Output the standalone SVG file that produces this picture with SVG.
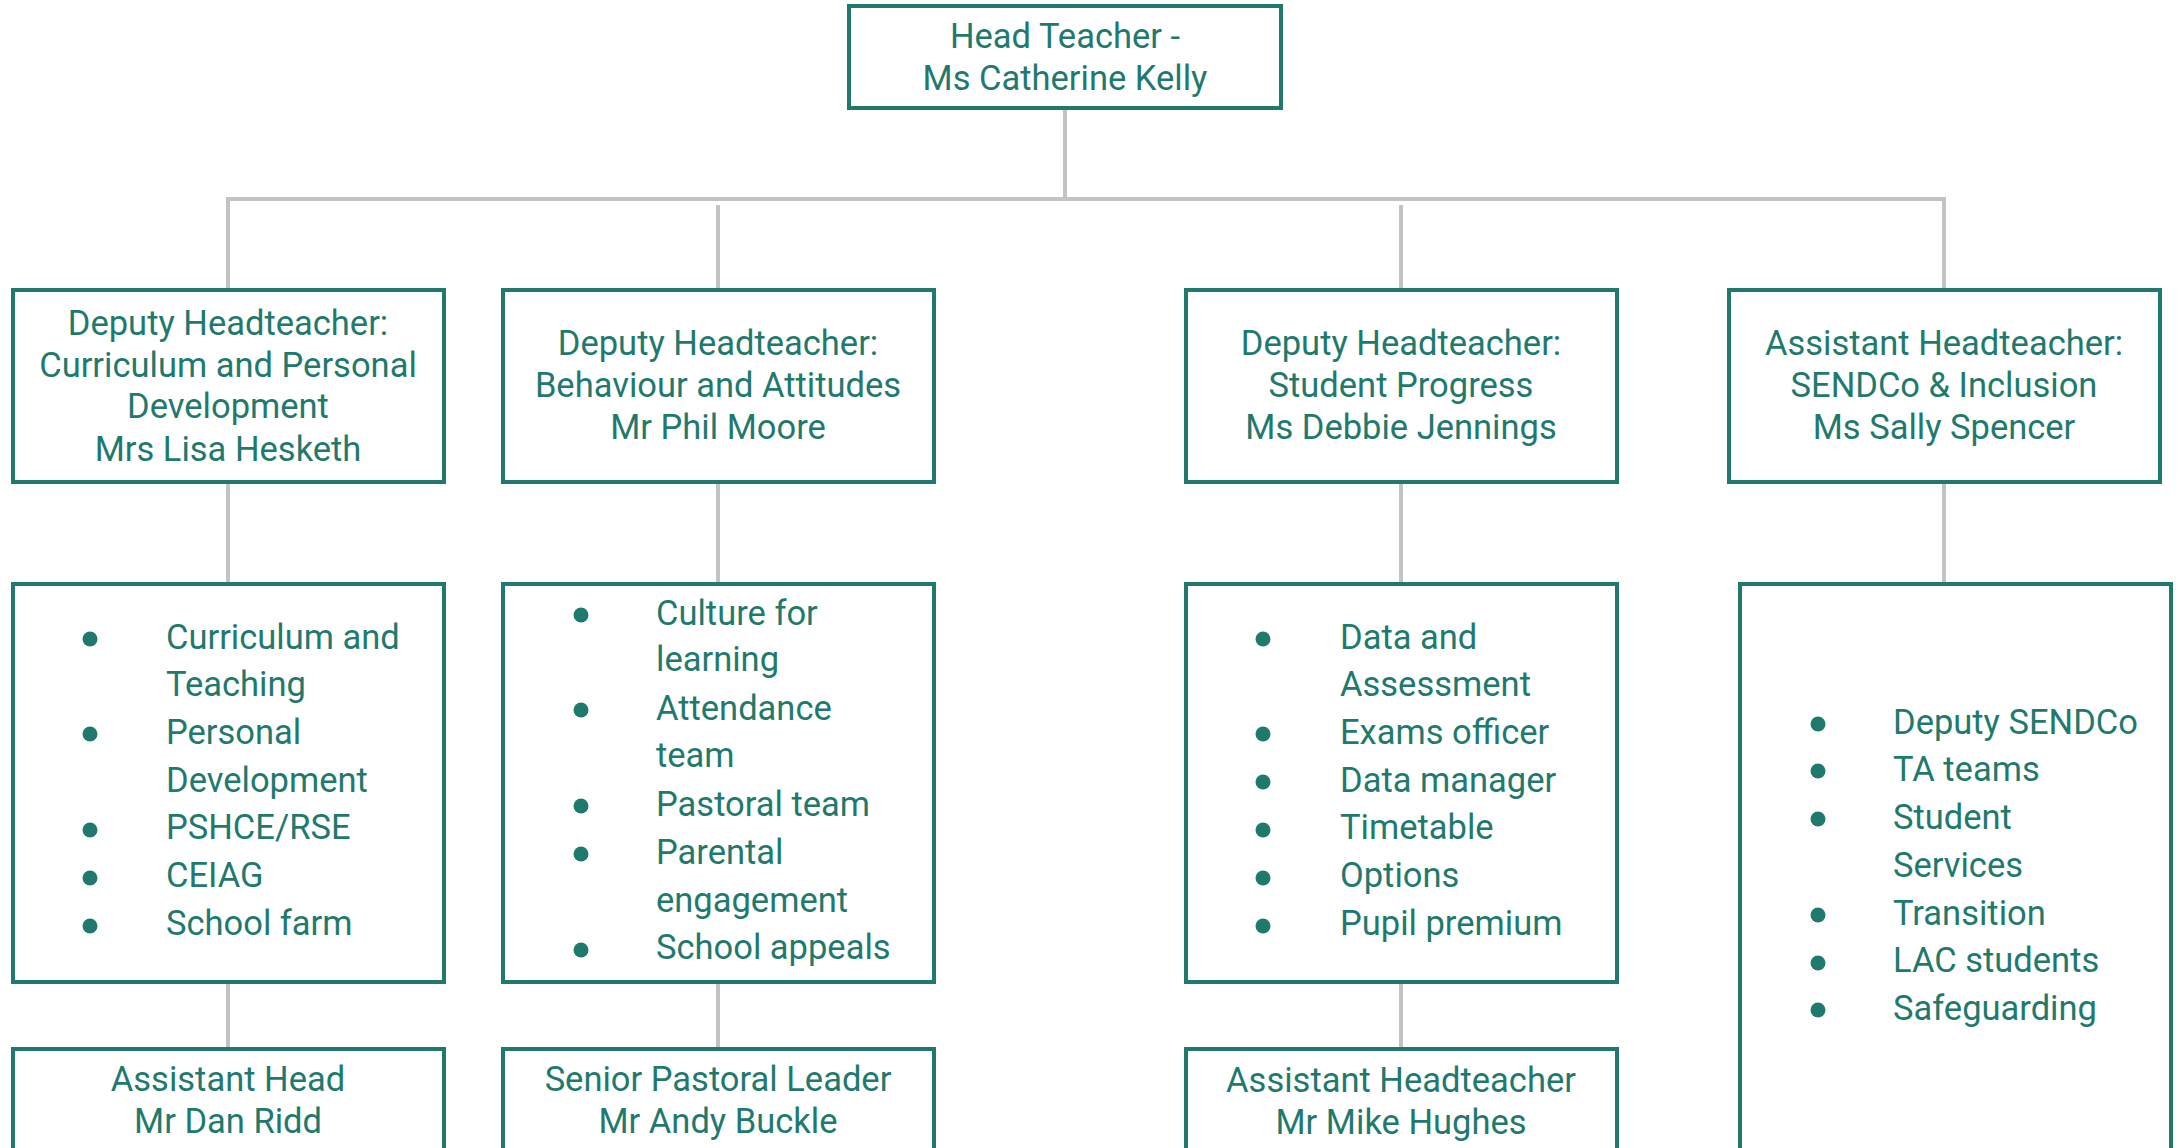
<svg xmlns="http://www.w3.org/2000/svg" width="2184" height="1148" viewBox="0 0 2184 1148">
<style>
.box{fill:#ffffff;stroke:#1f7a6d;stroke-width:4}
.t{font-family:Roboto,"Liberation Sans",sans-serif;font-size:34.5px;fill:#1f7a6d}
.c{text-anchor:middle}
.ln{stroke:#c3c3c3;stroke-width:4;fill:none}
.b{fill:#1f7a6d}
</style>
<rect width="2184" height="1148" fill="#ffffff"/>
<g id="connectors">
<line class="ln" x1="1065" y1="108" x2="1065" y2="199"/>
<line class="ln" x1="226" y1="199" x2="1946" y2="199"/>
<line class="ln" x1="228" y1="199" x2="228" y2="289"/>
<line class="ln" x1="718" y1="205" x2="718" y2="289"/>
<line class="ln" x1="1401" y1="205" x2="1401" y2="289"/>
<line class="ln" x1="1944" y1="199" x2="1944" y2="289"/>
<line class="ln" x1="228" y1="482" x2="228" y2="583"/>
<line class="ln" x1="718" y1="482" x2="718" y2="583"/>
<line class="ln" x1="1401" y1="482" x2="1401" y2="583"/>
<line class="ln" x1="1944" y1="482" x2="1944" y2="583"/>
<line class="ln" x1="228" y1="982" x2="228" y2="1048"/>
<line class="ln" x1="718" y1="982" x2="718" y2="1048"/>
<line class="ln" x1="1401" y1="982" x2="1401" y2="1048"/>
</g>
<g id="head">
<rect class="box" x="849" y="6" width="432" height="102"/>
<text class="t c" x="1065" y="48">Head Teacher -</text>
<text class="t c" x="1065" y="90">Ms Catherine Kelly</text>
</g>
<g id="deputy-curriculum">
<rect class="box" x="13" y="290" width="431" height="192"/>
<text class="t c" x="228" y="335">Deputy Headteacher:</text>
<text class="t c" x="228" y="377">Curriculum and Personal</text>
<text class="t c" x="228" y="418">Development</text>
<text class="t c" x="228" y="461">Mrs Lisa Hesketh</text>
</g>
<g id="deputy-behaviour">
<rect class="box" x="503" y="290" width="431" height="192"/>
<text class="t c" x="718" y="355">Deputy Headteacher:</text>
<text class="t c" x="718" y="397">Behaviour and Attitudes</text>
<text class="t c" x="718" y="439">Mr Phil Moore</text>
</g>
<g id="deputy-progress">
<rect class="box" x="1186" y="290" width="431" height="192"/>
<text class="t c" x="1401" y="355">Deputy Headteacher:</text>
<text class="t c" x="1401" y="397">Student Progress</text>
<text class="t c" x="1401" y="439">Ms Debbie Jennings</text>
</g>
<g id="assistant-sendco">
<rect class="box" x="1729" y="290" width="431" height="192"/>
<text class="t c" x="1944" y="355">Assistant Headteacher:</text>
<text class="t c" x="1944" y="397">SENDCo &amp; Inclusion</text>
<text class="t c" x="1944" y="439">Ms Sally Spencer</text>
</g>
<g id="list-curriculum">
<rect class="box" x="13" y="584" width="431" height="398"/>
<circle class="b" cx="90" cy="639" r="7.5"/>
<circle class="b" cx="90" cy="734" r="7.5"/>
<circle class="b" cx="90" cy="830" r="7.5"/>
<circle class="b" cx="90" cy="878" r="7.5"/>
<circle class="b" cx="90" cy="926" r="7.5"/>
<text class="t" x="166" y="649">Curriculum and</text>
<text class="t" x="166" y="696">Teaching</text>
<text class="t" x="166" y="744">Personal</text>
<text class="t" x="166" y="792">Development</text>
<text class="t" x="166" y="839">PSHCE/RSE</text>
<text class="t" x="166" y="887">CEIAG</text>
<text class="t" x="166" y="935">School farm</text>
</g>
<g id="list-behaviour">
<rect class="box" x="503" y="584" width="431" height="398"/>
<circle class="b" cx="581" cy="615" r="7.5"/>
<circle class="b" cx="581" cy="710" r="7.5"/>
<circle class="b" cx="581" cy="806" r="7.5"/>
<circle class="b" cx="581" cy="854" r="7.5"/>
<circle class="b" cx="581" cy="950" r="7.5"/>
<text class="t" x="656" y="625">Culture for</text>
<text class="t" x="656" y="671">learning</text>
<text class="t" x="656" y="720">Attendance</text>
<text class="t" x="656" y="767">team</text>
<text class="t" x="656" y="816">Pastoral team</text>
<text class="t" x="656" y="864">Parental</text>
<text class="t" x="656" y="912">engagement</text>
<text class="t" x="656" y="959">School appeals</text>
</g>
<g id="list-progress">
<rect class="box" x="1186" y="584" width="431" height="398"/>
<circle class="b" cx="1263" cy="639" r="7.5"/>
<circle class="b" cx="1263" cy="734" r="7.5"/>
<circle class="b" cx="1263" cy="782" r="7.5"/>
<circle class="b" cx="1263" cy="830" r="7.5"/>
<circle class="b" cx="1263" cy="878" r="7.5"/>
<circle class="b" cx="1263" cy="926" r="7.5"/>
<text class="t" x="1340" y="649">Data and</text>
<text class="t" x="1340" y="696">Assessment</text>
<text class="t" x="1340" y="744">Exams officer</text>
<text class="t" x="1340" y="792">Data manager</text>
<text class="t" x="1340" y="839">Timetable</text>
<text class="t" x="1340" y="887">Options</text>
<text class="t" x="1340" y="935">Pupil premium</text>
</g>
<g id="list-sendco">
<rect class="box" x="1740" y="584" width="431" height="600"/>
<circle class="b" cx="1818" cy="724" r="7.5"/>
<circle class="b" cx="1818" cy="771" r="7.5"/>
<circle class="b" cx="1818" cy="819" r="7.5"/>
<circle class="b" cx="1818" cy="915" r="7.5"/>
<circle class="b" cx="1818" cy="963" r="7.5"/>
<circle class="b" cx="1818" cy="1010" r="7.5"/>
<text class="t" x="1893" y="734">Deputy SENDCo</text>
<text class="t" x="1893" y="781">TA teams</text>
<text class="t" x="1893" y="829">Student</text>
<text class="t" x="1893" y="877">Services</text>
<text class="t" x="1893" y="925">Transition</text>
<text class="t" x="1893" y="972">LAC students</text>
<text class="t" x="1893" y="1020">Safeguarding</text>
</g>
<g id="assistant-ridd">
<rect class="box" x="13" y="1049" width="431" height="140"/>
<text class="t c" x="228" y="1091">Assistant Head</text>
<text class="t c" x="228" y="1133">Mr Dan Ridd</text>
</g>
<g id="pastoral-buckle">
<rect class="box" x="503" y="1049" width="431" height="140"/>
<text class="t c" x="718" y="1091">Senior Pastoral Leader</text>
<text class="t c" x="718" y="1133">Mr Andy Buckle</text>
</g>
<g id="assistant-hughes">
<rect class="box" x="1186" y="1049" width="431" height="140"/>
<text class="t c" x="1401" y="1092">Assistant Headteacher</text>
<text class="t c" x="1401" y="1134">Mr Mike Hughes</text>
</g>
</svg>
